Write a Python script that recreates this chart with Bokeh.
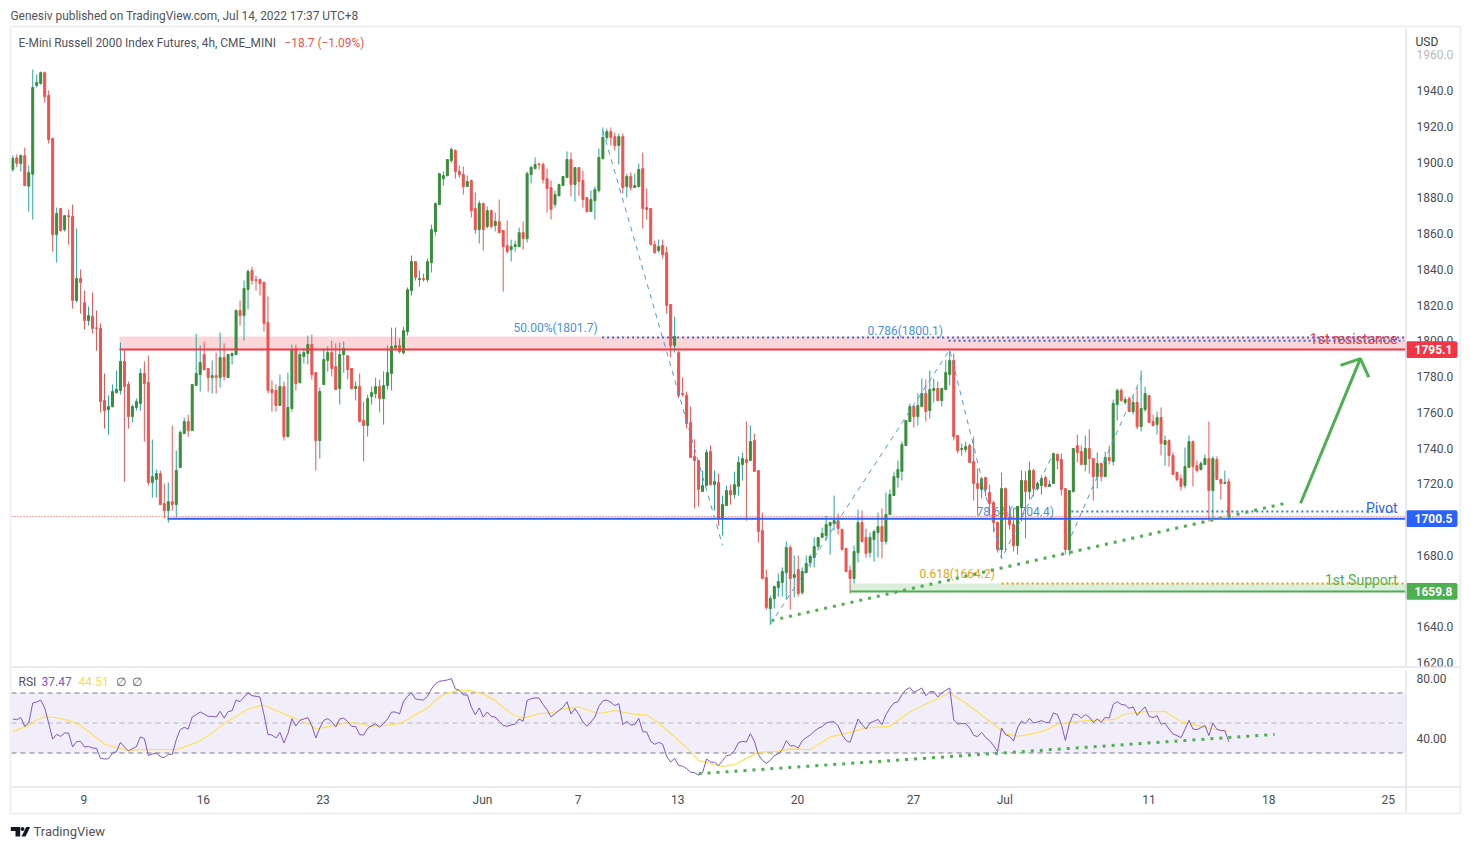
from bokeh.embed import file_html
from bokeh.layouts import column
from bokeh.models import (BoxAnnotation, ColumnDataSource, FixedTicker, Label,
                          NumeralTickFormatter, PolyAnnotation, Range1d)
from bokeh.plotting import figure
from bokeh.resources import INLINE

FONT = "Roboto"
UP_BODY = "#388e3c"
UP_WICK = "#26a69a"
DOWN = "#ef5350"
FRAME = "#e0e3eb"
OUTER = "#eeeff4"
TEXT = "#4a4c55"
BLUE_FIB = "#4a90e2"
GREEN = "#4caf50"

# 4h candles
opens = [
    1895.8, 1902.3, 1899.1, 1903.6, 1886.5, 1893.2, 1942.8, 1943.9, 1950, 1937.2,
    1913.1, 1859.4, 1874, 1862.2, 1870, 1869.5, 1822.5, 1834.8, 1821.4, 1811.3,
    1813.6, 1807.2, 1806.9, 1766.6, 1761.5, 1763.2, 1771, 1772.2, 1788.4, 1775.5,
    1757.6, 1762.7, 1764.9, 1781.7, 1776.6, 1720.7, 1722.4, 1725.7, 1708.9, 1705,
    1710, 1708.4, 1729.1, 1748.1, 1754.8, 1749.8, 1775, 1781.1, 1792.3, 1784.5,
    1779.4, 1780.5, 1779.4, 1790.6, 1779.4, 1791.7, 1792.3, 1816.9, 1814.1, 1828.7,
    1839.3, 1834.3, 1834.3, 1832.6, 1810.2, 1772.7, 1772.2, 1763.8, 1774.4, 1746.4,
    1762.1, 1795.7, 1776.6, 1791.2, 1792.9, 1797.9, 1782.2, 1744.2, 1775.5, 1789,
    1793.4, 1785.6, 1773.3, 1792.3, 1791.7, 1784.5, 1773.3, 1774.4, 1755.4, 1752.6,
    1768.8, 1770.5, 1774.4, 1767.7, 1775, 1781.7, 1796.2, 1797.3, 1793.4, 1805.1,
    1828.1, 1844.3, 1834.2, 1834.8, 1834.2, 1843.8, 1861.1, 1876.2, 1890.7, 1892.4,
    1900.8, 1906.4, 1894.7, 1893, 1886.3, 1889.6, 1874, 1862.2, 1876.8, 1863.9,
    1872.8, 1864.5, 1866.7, 1861.7, 1853.3, 1851, 1852.7, 1852.7, 1860.5, 1857.2,
    1893, 1896.3, 1899, 1898.6, 1890.7, 1885.7, 1876.2, 1881.2, 1886.8, 1891.3,
    1901.4, 1887.4, 1896.9, 1889.6, 1880.1, 1872.3, 1878.4, 1884, 1901.9, 1913.7,
    1917, 1914.2, 1909.2, 1914.2, 1886.3, 1891.9, 1885.7, 1886.3, 1896.3, 1874.5,
    1874, 1853.8, 1850.5, 1853.3, 1849.3, 1820.3, 1797.3, 1793.4, 1770.5, 1769.4,
    1754.3, 1735.3, 1733, 1715.7, 1719, 1738, 1719.6, 1720.7, 1700.6, 1707.8,
    1716.2, 1714, 1718.5, 1730.8, 1733.6, 1733, 1744.2, 1727.4, 1693.8, 1667.5,
    1650.2, 1655.8, 1662, 1664.8, 1670.3, 1684.3, 1667.6, 1672, 1659.2, 1670.3,
    1675.9, 1678.7, 1684.9, 1690, 1691, 1696.6, 1697.8, 1699.4, 1694.4, 1683.8,
    1671.5, 1667, 1681.5, 1698.3, 1690, 1681.5, 1688.8, 1692.7, 1696.1, 1687.7,
    1702.8, 1713.4, 1723.5, 1726.9, 1741.4, 1754.8, 1763.2, 1757.6, 1763.2, 1770.5,
    1761, 1772.2, 1773.3, 1766.6, 1772.7, 1781.1, 1789, 1747, 1739.2, 1739.2,
    1741.4, 1732.5, 1720.2, 1716.8, 1723.5, 1715.1, 1709.5, 1698.3, 1683.2, 1717.3,
    1701.1, 1697.2, 1685.4, 1706.7, 1721.8, 1715.7, 1727.4, 1717.3, 1719, 1723.5,
    1718.5, 1720.2, 1736.4, 1733.6, 1717.3, 1683.2, 1715.7, 1741.4, 1738, 1730.8,
    1739.7, 1734.1, 1724, 1731.3, 1724, 1734.7, 1732.5, 1764.3, 1772.2, 1765.5,
    1767.7, 1760.4, 1765.5, 1752, 1761.5, 1769.4, 1754.8, 1753.2, 1757.1, 1742,
    1744.2, 1735.8, 1726.3, 1722.9, 1719, 1729.1, 1743.6, 1730.2, 1728, 1730.8,
    1734.1, 1716.2, 1733.6, 1722.4, 1720.2, 1721.3,
]
closes = [
    1902, 1899.3, 1903.6, 1886.8, 1894.1, 1941.7, 1944.5, 1950, 1936.6, 1912.6,
    1859.4, 1871.2, 1861.7, 1870, 1869.5, 1822.5, 1834.8, 1832.6, 1811.3, 1814.1,
    1806.9, 1806.9, 1766, 1761, 1763.2, 1771.6, 1772.7, 1788.4, 1774.4, 1757.6,
    1763.2, 1766, 1781.7, 1776.1, 1720.7, 1724, 1725.7, 1708.4, 1705, 1710,
    1708.4, 1727.4, 1748.7, 1754.8, 1749.8, 1775.5, 1781.7, 1787.8, 1783.9, 1779.4,
    1780.5, 1779.4, 1790.6, 1780, 1792.3, 1792.9, 1816.9, 1814.1, 1829.2, 1838.7,
    1833.7, 1833.7, 1832, 1809.7, 1772.2, 1771, 1763.8, 1774.4, 1746.4, 1762.7,
    1795.1, 1776.1, 1792.3, 1793.4, 1797.9, 1781.1, 1744.2, 1771.6, 1789.5, 1793.4,
    1784.5, 1772.7, 1792.3, 1795.7, 1783.9, 1773.3, 1774.4, 1754.8, 1752.6, 1767.7,
    1771, 1774.4, 1767.7, 1775, 1782.2, 1796.8, 1797.3, 1794, 1805.7, 1828.6,
    1844.3, 1835.4, 1834.8, 1834.2, 1844.3, 1862.2, 1876.8, 1893.5, 1892.4, 1901.4,
    1907, 1894.7, 1893, 1886.3, 1889.1, 1872.8, 1862.2, 1876.8, 1862.2, 1872.8,
    1863.9, 1866.7, 1860.5, 1852.7, 1849.9, 1852.7, 1853.8, 1860.5, 1857.2, 1893.5,
    1896.9, 1898.6, 1898.6, 1890.2, 1885.2, 1873.4, 1881.8, 1887.4, 1891.9, 1901.4,
    1887.4, 1896.9, 1889.1, 1879, 1872.3, 1879, 1884.6, 1902.5, 1913.7, 1917,
    1913.7, 1909.2, 1914.2, 1885.7, 1891.9, 1885.7, 1886.8, 1895.8, 1874, 1873.4,
    1853.8, 1849.3, 1852.7, 1848.2, 1819.7, 1797.3, 1802.4, 1769.4, 1769.9, 1753.7,
    1734.7, 1733, 1716.8, 1719, 1737.5, 1719.6, 1721.3, 1700.6, 1708.4, 1716.2,
    1714, 1719.6, 1731.9, 1734.1, 1731.9, 1743.6, 1726.9, 1693.3, 1667, 1650.8,
    1655.8, 1662.5, 1665.3, 1670.9, 1684.3, 1667, 1669.2, 1658.6, 1670.9, 1675.4,
    1679.3, 1684.9, 1689.9, 1692.2, 1697.2, 1698.3, 1699.4, 1695, 1683.2, 1670.9,
    1667, 1682.1, 1698.3, 1687.7, 1681, 1690, 1693.3, 1696.1, 1687.7, 1702.8,
    1714, 1724, 1728, 1741.9, 1755.4, 1763.2, 1757.6, 1763.8, 1770.5, 1760.4,
    1772.7, 1773.3, 1766.6, 1773.3, 1782.2, 1789, 1746.4, 1738.6, 1739.7, 1740.8,
    1731.9, 1720.2, 1717.4, 1722.9, 1716.8, 1709, 1698.3, 1683.2, 1717.3, 1700.6,
    1697.2, 1685.4, 1707.3, 1721.8, 1715.7, 1727.4, 1717.3, 1720.2, 1722.9, 1718.5,
    1719.6, 1736.9, 1733, 1716.8, 1683.2, 1716.2, 1739.7, 1737.5, 1730.8, 1739.7,
    1734.1, 1724, 1731.3, 1724, 1734.7, 1733, 1764.9, 1772.2, 1766.6, 1767.1,
    1760.4, 1765.5, 1752, 1762.1, 1770.5, 1754.3, 1752.6, 1757.1, 1742.5, 1744.2,
    1735.8, 1725.2, 1722.4, 1718.5, 1729.7, 1743.6, 1729.7, 1727.4, 1731.3, 1734.1,
    1716.2, 1734.1, 1722.4, 1720.2, 1720.7, 1701.7,
]
highs = [
    1903.6, 1904.2, 1904.2, 1908.1, 1898, 1951.7, 1949, 1950.6, 1950.6, 1940,
    1913.7, 1874.5, 1874, 1870, 1873.4, 1876.2, 1862.8, 1839.9, 1828.1, 1819.2,
    1827, 1816.9, 1809.7, 1781.7, 1769.4, 1775.5, 1783.4, 1799, 1794.5, 1777.2,
    1764.3, 1767.7, 1784.5, 1788.4, 1791.7, 1744.7, 1728, 1727.4, 1720.1, 1720.7,
    1752.6, 1738.6, 1749.8, 1757, 1758.7, 1775.5, 1804, 1797.3, 1799.6, 1784.5,
    1789, 1793.4, 1804.6, 1798.5, 1792.3, 1793.4, 1817.5, 1822.5, 1833.7, 1839.9,
    1841.5, 1836.5, 1834.8, 1833.2, 1824.8, 1777.8, 1775.5, 1781.1, 1777.2, 1782.2,
    1797.9, 1797.9, 1794, 1795.7, 1802.9, 1803.5, 1782.2, 1773.8, 1795.1, 1796.8,
    1800.1, 1798.5, 1799, 1799.6, 1791.7, 1784.5, 1777.2, 1781.7, 1766, 1769.9,
    1774.4, 1779.4, 1778.3, 1782.8, 1797.3, 1807.4, 1807.4, 1801.3, 1807.9, 1829.8,
    1847.7, 1844.3, 1839.3, 1837.6, 1846, 1865, 1877.3, 1893.5, 1894.7, 1901.4,
    1908.1, 1907, 1898, 1897.5, 1892.4, 1890.2, 1882.9, 1878.4, 1877.3, 1875.1,
    1873.4, 1871.7, 1879, 1861.7, 1867.3, 1856.6, 1856, 1863.3, 1866.7, 1894.7,
    1898, 1902.5, 1899.1, 1899.7, 1896.3, 1889.6, 1884, 1887.9, 1891.9, 1905.9,
    1905.3, 1896.9, 1896.9, 1895.2, 1880.1, 1884, 1886.3, 1907.5, 1919.3, 1918.7,
    1919.3, 1916.5, 1915.9, 1915.9, 1893.5, 1894.1, 1893.5, 1899.1, 1905.3, 1885.2,
    1874, 1856, 1856.6, 1856.6, 1852.7, 1820.3, 1813.5, 1794.5, 1779.4, 1771.6,
    1763.2, 1744.8, 1733, 1727.4, 1739.2, 1741.4, 1727.4, 1725.7, 1713.4, 1719,
    1719.6, 1726.8, 1735.3, 1737.5, 1754.8, 1752.6, 1748.1, 1727.4, 1703.9, 1672,
    1657.5, 1663.1, 1669.8, 1673.2, 1687.7, 1685.5, 1679.9, 1679.9, 1673.2, 1679.9,
    1680.4, 1690, 1690, 1695.5, 1702.2, 1698.9, 1713.4, 1703.4, 1695, 1683.8,
    1674.3, 1685.5, 1705.6, 1705, 1695, 1692.7, 1694.4, 1703.9, 1706.2, 1715.1,
    1716.8, 1726.8, 1733, 1743.6, 1755.4, 1764.9, 1763.8, 1770.5, 1778.9, 1778.3,
    1783.4, 1778.9, 1777.2, 1773.8, 1789, 1794.5, 1792.9, 1747, 1742.5, 1743.6,
    1742.5, 1746.4, 1728.5, 1724, 1724, 1719.6, 1710.6, 1698.9, 1726.3, 1717.9,
    1707.8, 1706.2, 1707.8, 1727.4, 1727, 1732.5, 1728.5, 1721.3, 1724.6, 1724.6,
    1721.8, 1737.5, 1736.9, 1736.9, 1717.3, 1716.2, 1739.7, 1747.6, 1741.4, 1747,
    1750.4, 1734.1, 1737.5, 1731.9, 1738, 1741.4, 1767.1, 1773.3, 1773.3, 1768.8,
    1768.8, 1768.8, 1773.8, 1783.4, 1774.4, 1769.4, 1758.7, 1760.4, 1762.7, 1747,
    1744.8, 1737.5, 1726.9, 1725.2, 1740.3, 1747, 1744.2, 1733, 1732.5, 1736.4,
    1754.8, 1735.3, 1735.3, 1722.9, 1727.4, 1723,
]
lows = [
    1894.7, 1897.1, 1894.7, 1886.5, 1872.3, 1867.8, 1941.7, 1943.3, 1933.3, 1910.3,
    1849.9, 1843.8, 1861.1, 1861.1, 1853.8, 1818, 1821.4, 1815.2, 1806.3, 1808.5,
    1804.1, 1794.5, 1759.9, 1750.9, 1747.5, 1762.7, 1770.5, 1769.9, 1721.2, 1750.9,
    1754.3, 1761, 1761, 1743.6, 1719, 1712.3, 1712.3, 1708.4, 1700.6, 1698.3,
    1705, 1701.1, 1729.1, 1748.1, 1746.4, 1749.8, 1774.9, 1771.6, 1783.3, 1771.6,
    1770.5, 1770.5, 1773.8, 1777.8, 1779.4, 1786.7, 1792.3, 1808.5, 1800.1, 1817.5,
    1831.5, 1828.1, 1825.3, 1805.2, 1770.5, 1760.4, 1760.4, 1763.8, 1744.2, 1745.9,
    1760.4, 1772.2, 1776.1, 1787.3, 1786.7, 1778.3, 1727.4, 1734.1, 1775.5, 1782.8,
    1780, 1772.7, 1764.3, 1782.2, 1778.3, 1772.7, 1766.6, 1754.3, 1732.4, 1746.4,
    1764.3, 1767.7, 1759.9, 1753.1, 1772.7, 1772.2, 1794.5, 1792.9, 1792.3, 1802.9,
    1825.3, 1833.7, 1830.3, 1833.1, 1832.6, 1838.2, 1858.9, 1876.2, 1886.8, 1891.9,
    1899.7, 1890.7, 1891.3, 1881.8, 1886.3, 1868.9, 1860, 1854.4, 1850.5, 1862.8,
    1862.8, 1861.1, 1860, 1827.5, 1848.8, 1844.3, 1849.9, 1852.7, 1851, 1855,
    1888, 1896.3, 1895.8, 1888, 1871.7, 1867.8, 1874.5, 1880.7, 1886.8, 1891.3,
    1880.7, 1877.9, 1881.2, 1874.5, 1871.7, 1872.3, 1867.8, 1882.9, 1901.4, 1912,
    1909.2, 1906.4, 1898.6, 1882.4, 1880.1, 1884, 1885.7, 1885.7, 1862.8, 1867.8,
    1853.8, 1848.8, 1849.3, 1846, 1815.2, 1790.6, 1793.4, 1768, 1768.8, 1750.9,
    1734.7, 1706.2, 1707.3, 1715.7, 1719, 1719, 1705, 1696.6, 1691, 1707.8,
    1708.4, 1711.8, 1713.4, 1721.8, 1699.4, 1733, 1726.9, 1687.1, 1667, 1649.6,
    1641.3, 1650.2, 1656.9, 1656.9, 1655.2, 1649.6, 1656.4, 1656.9, 1658, 1670.3,
    1673.2, 1673.2, 1682.7, 1690, 1688.2, 1680.4, 1693.8, 1691.6, 1682.7, 1670.9,
    1658.6, 1664.2, 1676, 1687.1, 1678.7, 1678.7, 1676.5, 1678.7, 1678.2, 1686,
    1702.8, 1713.4, 1717.9, 1721.8, 1741.4, 1754.8, 1751.5, 1752.6, 1763.2, 1754.8,
    1756.5, 1765.5, 1766.6, 1763.2, 1772.7, 1775, 1744.2, 1736.9, 1735.8, 1737.5,
    1731.9, 1710.6, 1702.2, 1711.8, 1712.9, 1702.2, 1692.7, 1681.5, 1678.7, 1682.1,
    1694.4, 1682.1, 1680.4, 1698.9, 1689.4, 1711.2, 1712.9, 1716.2, 1714, 1718.5,
    1718.5, 1720.2, 1728, 1713.4, 1680.4, 1679.9, 1715.1, 1731.9, 1730.8, 1726.9,
    1725.7, 1710.6, 1717.4, 1721.3, 1724, 1730.8, 1730.2, 1755.4, 1766, 1764.3,
    1760.4, 1758.7, 1750.4, 1749.2, 1760.4, 1754.3, 1752, 1747.6, 1735.8, 1730.2,
    1729.6, 1725.2, 1721.3, 1716.2, 1717.4, 1729.1, 1718.5, 1726.3, 1727.4, 1730.8,
    1698.9, 1700.6, 1722.4, 1711.2, 1720.2, 1701.1,
]
rsi_values = [
    52.7, 52.2, 53.6, 47.8, 50, 63.3, 64, 65.3, 60, 50,
    39.3, 42.4, 41.1, 43.3, 43.3, 34, 37.6, 37.8, 34, 34.4,
    33.3, 33.1, 26.4, 26, 26.2, 30, 30.9, 37.1, 34, 31.3,
    32.9, 34.2, 40.7, 39.6, 28.4, 29.3, 30, 27.6, 26.9, 29.1,
    29.1, 38.9, 45.6, 47.1, 46, 54, 55.6, 57.3, 56, 54.4,
    54.4, 54, 57.8, 53.3, 57.6, 58.2, 65.3, 64.2, 67.3, 70,
    68.2, 67.8, 67.3, 55.6, 42.4, 42, 40, 43.8, 36.7, 42.9,
    52.9, 48, 51.8, 52.7, 53.6, 48.2, 40, 46.7, 51.8, 52.9,
    50.9, 47.3, 52.7, 53.3, 50.9, 47.8, 47.6, 42.2, 42, 46.4,
    48.2, 49.3, 47.3, 49.6, 52.7, 57.3, 57.3, 56, 64.4, 67.8,
    70, 66, 65.6, 65.3, 67.8, 72.7, 76.2, 77.8, 78.2, 78.7,
    79.6, 72.7, 71.8, 68.7, 68.7, 60.7, 55.6, 60, 54, 57.3,
    54.4, 54, 51.1, 48.4, 47.8, 48.7, 49.3, 52.7, 51.1, 65.1,
    66.2, 66.7, 66.7, 62.2, 58.9, 54, 56.2, 58.4, 60.4, 64.2,
    56, 59.6, 55.6, 50.7, 47.8, 50.7, 54, 61.1, 64.7, 65.3,
    63.8, 61.6, 62.9, 48.9, 51.1, 48.7, 48.9, 53.1, 44.2, 44,
    37.8, 35.8, 37.1, 35.8, 27.8, 24, 26.4, 21.6, 21.3, 19.6,
    17.3, 16.9, 15.3, 16.7, 26, 24, 23.8, 21.6, 24.9, 28.2,
    28.7, 31.6, 36.9, 37.8, 37.3, 42.9, 37.8, 28.9, 25.1, 23.1,
    25.1, 28.2, 29.6, 32.2, 38.2, 34.7, 34.9, 33.3, 38.2, 40.2,
    42, 44.4, 46.4, 47.6, 50, 50.7, 50.9, 48.2, 42.2, 38.4,
    37.1, 44.9, 52.7, 48.9, 46, 50, 51.1, 52.4, 48.9, 55.6,
    60, 63.3, 64.2, 68.9, 72.2, 73.6, 70.4, 71.8, 73.3, 68.2,
    70.9, 70.9, 67.3, 70, 71.8, 73.3, 52.2, 49.3, 49.6, 49.6,
    46.7, 41.8, 40.9, 43.8, 40.4, 38.2, 34.9, 30.9, 46.7, 42.2,
    41.1, 38, 46.7, 51.3, 49.6, 53.1, 50, 50.7, 51.6, 50.4,
    50.4, 56.7, 55.6, 49, 38.4, 49.6, 56, 55.6, 53.3, 55.6,
    54, 50.4, 52.7, 50.4, 53.8, 53.3, 62.4, 64.2, 62.4, 62,
    59.8, 60.7, 55.1, 58.2, 60.7, 54.4, 53.6, 54.9, 49.3, 49.8,
    46, 42.7, 41.6, 40.2, 45.8, 51.8, 46, 45.6, 46.9, 48.4,
    41.6, 50, 45.8, 44.9, 44.9, 37.47,
]
# smoothing line of the RSI, read at its bends only
rsi_ma_index = [
    0, 4, 6, 8, 11, 14, 17, 19, 21, 23, 26, 29, 33, 37, 41, 44, 47, 50, 53, 56,
    59, 62, 63, 66, 69, 72, 75, 76, 79, 82, 84, 87, 90, 93, 96, 98, 101, 104,
    107, 109, 112, 115, 118, 121, 122, 125, 128, 132, 135, 138, 142, 145, 147,
    151, 156, 159, 162, 166, 170, 172, 176, 178, 181, 184, 187, 192, 195, 200,
    205, 210, 214, 220, 225, 230, 235, 239, 245, 249, 252, 255, 259, 262, 266,
    270, 276, 279, 284, 289, 293, 297, 301, 305,
]
rsi_ma_values = [
    44.4, 48.2, 52, 54.2, 53.5, 51.6, 48.4, 44.4, 40, 36, 33.6, 31.8, 32.4, 32.2,
    32.2, 34.9, 38.2, 43.3, 49.6, 54.4, 59.1, 61.6, 61.8, 58.4, 54.9, 51.8, 48.2,
    46, 47.6, 49.3, 50.4, 49.6, 47.8, 48.2, 49.3, 50.7, 55.6, 60, 67.3, 70, 72,
    71.6, 69.3, 65.1, 62.7, 56.2, 53.1, 56.2, 56.7, 59.3, 60.7, 57.8, 56.2, 58.2,
    55.8, 55.3, 50, 40.7, 31.1, 25.1, 22.2, 21.1, 22.2, 26.4, 30.4, 31.3, 32.7,
    32.2, 40.7, 43.8, 46.7, 47.8, 57.3, 63.8, 70, 63.3, 51.1, 42.9, 41.3, 42.2,
    45.1, 49.3, 50.7, 51.8, 52.2, 56, 57.6, 57.8, 50.9, 48.4, 46, 44.51,
]

week_ticks = [17.8, 47.8, 77.8, 117.8, 141.8, 166.8, 196.8, 225.9, 248.8, 285, 315, 345]
week_labels = ["9", "16", "23", "Jun", "7", "13", "20", "27", "Jul", "11", "18", "25"]
price_ticks = [1620, 1640, 1660, 1680, 1700, 1720, 1740, 1760, 1780, 1800, 1820,
               1840, 1860, 1880, 1900, 1920, 1940, 1960]
rsi_ticks = [40, 80]

# levels drawn by the author of the chart
resistance = 1795.1
resistance_top = 1802.4
pivot = 1700.5
support = 1659.8
support_top = 1664.2
last_close = 1701.7
fib_50 = 1801.8
fib_786 = 1800.0
fib_786_low = 1704.5
fib_618 = 1664.2

zigzag_index = [[148, 178], [190, 235, 248, 261], [265.5, 283.5]]
zigzag_price = [[1917.6, 1685.6], [1641.3, 1795, 1678, 1737], [1691, 1782]]
trend_index = [190.3, 319]
trend_price = [1643.5, 1709]
arrow_index = [[323, 338], [333, 338, 340.1]]
arrow_price = [[1709.1, 1790], [1786.2, 1790, 1779.6]]
rsi_trend_index = [172, 316.5]
rsi_trend_value = [16.2, 42.4]

# the last index of the plotting area, the price scale starts here
SCALE_X = 349.3


def text(fig, x, y, value, color, size=12, align="left", level="annotation"):
    # x and y are in pixels of the figure's canvas
    fig.add_layout(Label(x=x, y=y, x_units="canvas", y_units="canvas", text=value,
                         text_color=color, text_font=FONT,
                         text_font_size=f"{size}px", text_align=align,
                         text_baseline="middle", level=level))


def frame_box(fig, left, right, top, bottom, line=OUTER, width=2):
    fig.add_layout(BoxAnnotation(left=left, right=right, top=top, bottom=bottom,
                                 left_units="canvas", right_units="canvas",
                                 top_units="canvas", bottom_units="canvas",
                                 fill_alpha=0, line_color=line, line_width=width,
                                 line_alpha=1, level="overlay", editable=False))


def price_tag(fig, value, color, label):
    half = 4.7
    fig.add_layout(BoxAnnotation(left=1405, right=1457, top=value + half,
                                 bottom=value - half, left_units="canvas",
                                 right_units="canvas", fill_color=color, fill_alpha=1,
                                 line_alpha=0, border_radius=2, level="annotation"))
    fig.add_layout(Label(x=1433, y=value, x_units="canvas", text=label,
                         text_color="white", text_font=FONT, text_font_size="12px",
                         text_font_style="bold", text_align="center",
                         text_baseline="middle", level="overlay"))


def style_axis(axis):
    axis.axis_line_color = None
    axis.major_tick_line_color = None
    axis.minor_tick_line_color = None
    axis.major_tick_out = 0
    axis.major_tick_in = 0
    axis.major_label_text_font = FONT
    axis.major_label_text_font_size = "12px"
    axis.major_label_text_color = TEXT


def make_price_pane(source, x_range):
    # the plotting area fills the whole canvas, so that header and tags can sit in it
    p = figure(width=1463, height=670, x_range=x_range,
               y_range=Range1d(1615.55, 1990.35), x_axis_location=None,
               y_axis_location="right", output_backend="svg", toolbar_location=None,
               min_border=0, outline_line_color=None, background_fill_color="white")
    p.grid.visible = False
    p.yaxis.fixed_location = SCALE_X
    p.yaxis.ticker = FixedTicker(ticks=price_ticks)
    p.yaxis.formatter = NumeralTickFormatter(format="0.0")
    p.yaxis.major_label_standoff = 11
    style_axis(p.yaxis)

    right_end = SCALE_X
    p.quad(left=26.75, right=right_end, bottom=resistance, top=resistance_top,
           fill_color="#f23645", fill_alpha=0.2, line_alpha=0)
    p.quad(left=210, right=right_end, bottom=support, top=support_top,
           fill_color=GREEN, fill_alpha=0.2, line_alpha=0)

    p.segment("index", "high", "index", "low", source=source, color="wick_color",
              line_width=1)
    p.vbar("index", width=0.5, bottom="open", top="close", source=source,
           fill_color="body_color", line_color="body_color", line_width=1)

    p.line([-0.33, right_end], [last_close, last_close], color=DOWN, line_width=1,
           line_dash=[1, 2])
    p.line([26.75, right_end], [resistance, resistance], color="#f23645", line_width=2)
    p.line([38.8, right_end], [pivot, pivot], color="#2962ff", line_width=2)
    p.line([210, right_end], [support, support], color=GREEN, line_width=2)

    p.line([147.8, 349], [fib_50, fib_50], color="#3f6fc0", line_width=2, line_dash=[2, 3])
    p.line([234.7, 349], [fib_786, fib_786], color="#3f6fc0", line_width=2, line_dash=[2, 3])
    p.line([265.5, 347], [fib_786_low, fib_786_low], color="#2f7fd6", line_width=2,
           line_dash=[2, 3])
    p.line([248, right_end], [fib_618, fib_618], color="#e0a010", line_width=2,
           line_dash=[2, 3])

    for xs, ys in zip(zigzag_index, zigzag_price):
        p.line(xs, ys, color="#4f98e0", line_width=1, line_dash=[5, 5])
    p.line(trend_index, trend_price, color=GREEN, line_width=3, line_dash=[3, 6])
    for xs, ys in zip(arrow_index, arrow_price):
        p.line(xs, ys, color=GREEN, line_width=3)

    # header
    text(p, 10, 15, "Genesiv published on TradingView.com, Jul 14, 2022 17:37 UTC+8",
         "#50535e", size=11.9)
    text(p, 18, 42, "E-Mini Russell 2000 Index Futures, 4h, CME_MINI", "#50535e", size=11.9)
    text(p, 284, 42, "\u221218.7 (\u22121.09%)", DOWN, size=11.9)
    text(p, 1415, 41, "USD", "#3a3c44")

    # the top tick fades out under the currency label
    p.add_layout(BoxAnnotation(left=1408, right=1458, top=47, bottom=62,
                               left_units="canvas", right_units="canvas",
                               top_units="canvas", bottom_units="canvas",
                               fill_color="white", fill_alpha=0.6, line_alpha=0))

    # drawing texts sit behind the marks
    text(p, 513, 327, "50.00%(1801.7)", BLUE_FIB, level="underlay")
    text(p, 867, 330, "0.786(1800.1)", BLUE_FIB, level="underlay")
    text(p, 976, 511, "78.6%(1704.4)", BLUE_FIB, level="underlay")
    text(p, 919, 573, "0.618(1664.2)", "#e6a21a", level="underlay")
    text(p, 1397, 338, "1st resistance", "#f23645", size=14, align="right", level="underlay")
    text(p, 1397, 507, "Pivot", "#2962ff", size=14, align="right", level="underlay")
    text(p, 1397, 579, "1st Support", GREEN, size=14, align="right", level="underlay")

    price_tag(p, resistance, "#f23645", "1795.1")
    price_tag(p, pivot, "#2962ff", "1700.5")
    price_tag(p, support, GREEN, "1659.8")

    # the lowest tick is cut by the pane below it
    p.add_layout(BoxAnnotation(left=0, right=1463, top=666.5, bottom=670,
                               left_units="canvas", right_units="canvas",
                               top_units="canvas", bottom_units="canvas",
                               fill_color="white", fill_alpha=1, line_alpha=0,
                               level="overlay"))
    frame_box(p, 11, 1459, 666.5, 666.5, line=FRAME, width=1)
    frame_box(p, 1405.5, 1405.5, 27, 666.5, line=FRAME, width=1)
    frame_box(p, 10, 1460, 26, 690)
    return p


def make_rsi_pane(index, x_range):
    p = figure(width=1463, height=171, x_range=x_range, y_range=Range1d(-29, 85),
               y_axis_location="right", output_backend="svg", toolbar_location=None,
               min_border=0, outline_line_color=None, background_fill_color="white")
    p.grid.visible = False
    p.xaxis.fixed_location = 7.67
    p.xaxis.ticker = FixedTicker(ticks=week_ticks)
    p.xaxis.major_label_overrides = dict(zip(week_ticks, week_labels))
    p.xaxis.major_label_standoff = 7
    style_axis(p.xaxis)
    p.yaxis.fixed_location = SCALE_X
    p.yaxis.ticker = FixedTicker(ticks=rsi_ticks)
    p.yaxis.formatter = NumeralTickFormatter(format="0.00")
    p.yaxis.major_label_standoff = 11
    style_axis(p.yaxis)

    x0, x1 = -0.33, SCALE_X
    p.quad(left=x0, right=x1, bottom=30, top=70, fill_color="#7e57c2", fill_alpha=0.1,
           line_alpha=0)
    p.line([x0, x1], [70, 70], color="#787b86", line_width=1, line_dash=[5, 4])
    p.line([x0, x1], [30, 30], color="#787b86", line_width=1, line_dash=[5, 4])
    p.line([x0, x1], [50, 50], color="#b2b5be", line_width=1, line_dash=[5, 4])
    p.line(rsi_ma_index, rsi_ma_values, color="#fbe25c", line_width=1.2)
    p.line(index, rsi_values, color="#7e57c2", line_width=1)
    p.line(rsi_trend_index, rsi_trend_value, color=GREEN, line_width=3, line_dash=[3, 6])

    text(p, 18, 11, "RSI", "#50535e")
    text(p, 41, 11, "37.47", "#7e57c2")
    text(p, 78, 11, "44.51", "#f7df3c")
    text(p, 115, 11, "\u2205", "#50535e")
    text(p, 131, 11, "\u2205", "#50535e")

    # TradingView mark and name under the chart
    for xs, ys in [
        ([10.3, 19.7, 19.7, 15, 15, 10.3], [156.5, 156.5, 166, 166, 160.5, 160.5]),
        ([25.7, 29.7, 25, 21], [156.5, 156.5, 166, 166]),
        ([20.6, 22, 23.4, 24, 23.4, 22, 20.6, 20], [157, 156.5, 157, 158.5, 160, 160.5, 160, 158.5]),
    ]:
        p.add_layout(PolyAnnotation(xs=xs, ys=ys, xs_units="canvas", ys_units="canvas",
                                    fill_color="#131722", fill_alpha=1, line_alpha=0,
                                    editable=False))
    text(p, 33, 161, "TradingView", "#50535e", size=13)

    frame_box(p, 11, 1459, 116.5, 116.5, line=FRAME, width=1)
    frame_box(p, 1405.5, 1405.5, -2, 143, line=FRAME, width=1)
    frame_box(p, 10, 1460, -20, 143)
    return p


def main():
    index = list(range(len(closes)))
    up = [c >= o for o, c in zip(opens, closes)]
    source = ColumnDataSource(dict(
        index=index, open=opens, high=highs, low=lows, close=closes,
        body_color=[UP_BODY if u else DOWN for u in up],
        wick_color=[UP_WICK if u else DOWN for u in up],
    ))
    x_range = Range1d(-3.085, 363.86)
    price = make_price_pane(source, x_range)
    rsi = make_rsi_pane(index, x_range)
    page = column(price, rsi, spacing=0)
    open("out.html", "w").write(file_html(page, INLINE))


if __name__ == "__main__":
    main()
